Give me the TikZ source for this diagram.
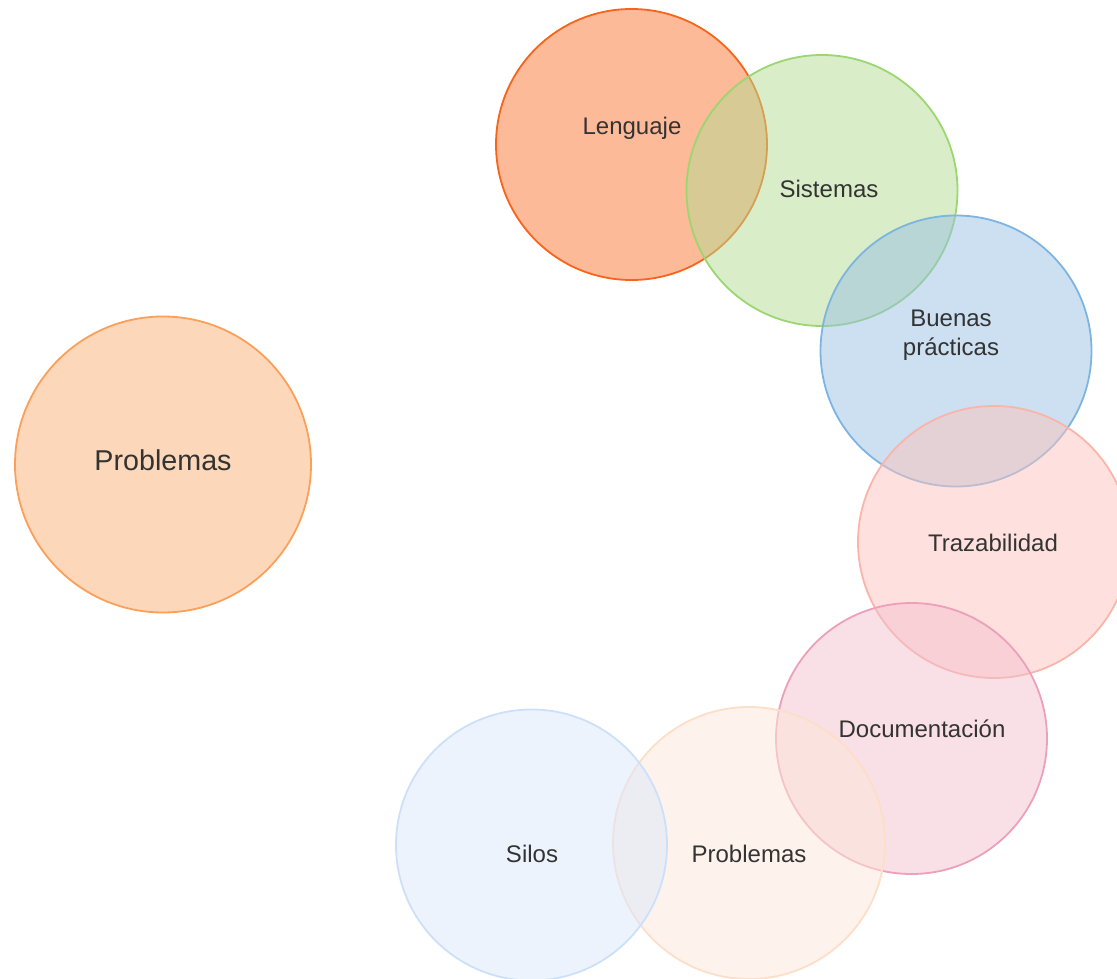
\documentclass[tikz,border=0pt]{standalone}
\usepackage{fontspec}
\setmainfont{Liberation Sans}
\definecolor{txt}{RGB}{51,51,51}
\definecolor{lenF}{RGB}{253,186,152}\definecolor{lenD}{RGB}{248,100,25}
\definecolor{sisF}{RGB}{179,219,145}\definecolor{sisD}{RGB}{155,214,113}
\definecolor{bueF}{RGB}{153,193,227}\definecolor{bueD}{RGB}{125,180,225}
\definecolor{traF}{RGB}{253,195,189}\definecolor{traD}{RGB}{250,180,170}
\definecolor{docF}{RGB}{243,191,205}\definecolor{docD}{RGB}{237,160,185}
\definecolor{proF}{RGB}{253,231,217}\definecolor{proD}{RGB}{253,222,200}
\definecolor{silF}{RGB}{219,231,251}\definecolor{silD}{RGB}{205,224,250}
\definecolor{plF}{RGB}{253,215,185}\definecolor{plD}{RGB}{250,160,90}
\begin{document}
\begin{tikzpicture}[x=1pt,y=-1pt,
  blob/.style={circle, minimum size=271pt, inner sep=0pt, line width=1.8pt, fill opacity=0.5},
  lbl/.style={text=txt, font=\fontsize{24}{29}\selectfont, align=center, inner sep=0pt, anchor=base}]
\clip (0,0) rectangle (1117,979);
\node[blob, fill=lenF, fill opacity=1, draw=lenD] (len) at (631.5,144.5) {};
\node[blob, fill=sisF, draw=sisD] (sis) at (822,190.5) {};
\node[blob, fill=bueF, draw=bueD] (bue) at (956,351) {};
\node[blob, fill=traF, draw=traD, minimum size=272pt] (tra) at (994,542) {};
\node[blob, fill=docF, draw=docD] (doc) at (911.5,738.5) {};
\node[blob, fill=proF, draw=proD, minimum size=272pt] (pro) at (749,843) {};
\node[blob, fill=silF, draw=silD] (sil) at (531.5,845) {};
\node[blob, fill=plF, fill opacity=1, draw=plD, minimum size=296pt] (pl) at (163,464.5) {};
\node[lbl] (tlen) at (632,135) {Lenguaje};
\node[lbl] (tsis) at (829,197) {Sistemas};
\node[lbl] (tbue) at (951,355) {Buenas\\prácticas};
\node[lbl] (ttra) at (993,551) {Trazabilidad};
\node[lbl] (tdoc) at (922,737) {Documentación};
\node[lbl] (tpro) at (749,862) {Problemas};
\node[lbl] (tsil) at (532,862) {Silos};
\node[lbl, font=\fontsize{28.7}{34}\selectfont] (tpl) at (163,470) {Problemas};
\end{tikzpicture}
\end{document}
